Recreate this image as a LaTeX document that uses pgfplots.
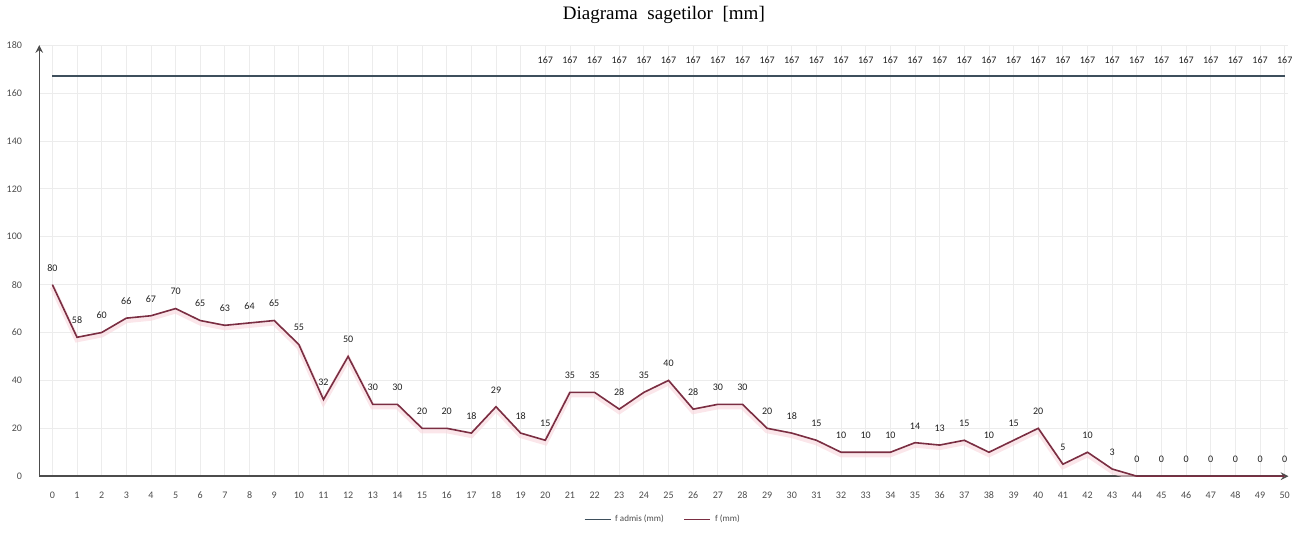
\documentclass[border=0pt]{standalone}
\usepackage{pgfplots}
\pgfplotsset{compat=1.18}
\usepackage{fontspec}
\setmainfont{Carlito}
\newfontfamily\titlefont{Liberation Serif}
\definecolor{flim}{HTML}{3E4F5C}
\definecolor{fline}{HTML}{7A2E42}
\definecolor{glow}{HTML}{F8D6DC}
\begin{document}
\begin{tikzpicture}
\begin{axis}[
  scale only axis, width=623pt, height=215pt,
  xmin=-0.53, xmax=50.15, ymin=0, ymax=180,
  axis x line=bottom, axis y line=left,
  axis line style={-stealth, gray!60!black, line width=0.7pt},
  xtick={0,...,50}, ytick={0,20,...,180},
  /pgf/number format/assume math mode=true,
  grid=major, major grid style={gray!15, line width=0.4pt},
  tick style={draw=none},
  ticklabel style={font=\fontsize{5}{6}\selectfont, text=gray!60!black},
  xticklabel style={yshift=-2pt},
  yticklabel style={xshift=-3pt},
  title={\titlefont\fontsize{9.5}{10}\selectfont Diagrama\ \ sagetilor\ \ [mm]},
  title style={yshift=1pt},
  legend style={at={(0.5,-0.07)}, anchor=north, draw=none, fill=none,
    legend columns=2, font=\fontsize{4.5}{5}\selectfont, text=gray!60!black,
    /tikz/every even column/.append style={column sep=8pt}},
  legend image code/.code={\draw[#1, line width=0.6pt] (0pt,0pt) -- (13pt,0pt);},
  every node near coord/.append style={font=\fontsize{5}{6}\selectfont, text=gray!25!black},
]
% glow under deflection line
\addplot[glow, line width=2.6pt, opacity=0.6, yshift=-1.2pt, forget plot] coordinates {
(0,80)(1,58)(2,60)(3,66)(4,67)(5,70)(6,65)(7,63)(8,64)(9,65)(10,55)
(11,32)(12,50)(13,30)(14,30)(15,20)(16,20)(17,18)(18,29)(19,18)(20,15)
(21,35)(22,35)(23,28)(24,35)(25,40)(26,28)(27,30)(28,30)(29,20)(30,18)
(31,15)(32,10)(33,10)(34,10)(35,14)(36,13)(37,15)(38,10)(39,15)(40,20)
(41,5)(42,10)(43,3)(44,0)(45,0)(46,0)(47,0)(48,0)(49,0)(50,0)};
% limit line
\addplot[flim, line width=1.1pt] coordinates {(0,167)(50,167)};
\addlegendentry{f admis (mm)}
\addplot[draw=none, forget plot, nodes near coords, point meta=explicit symbolic,
  every node near coord/.append style={anchor=south, yshift=3pt}] coordinates {
(20,167)[167](21,167)[167](22,167)[167](23,167)[167](24,167)[167](25,167)[167]
(26,167)[167](27,167)[167](28,167)[167](29,167)[167](30,167)[167](31,167)[167]
(32,167)[167](33,167)[167](34,167)[167](35,167)[167](36,167)[167](37,167)[167]
(38,167)[167](39,167)[167](40,167)[167](41,167)[167](42,167)[167](43,167)[167]
(44,167)[167](45,167)[167](46,167)[167](47,167)[167](48,167)[167](49,167)[167]
(50,167)[167]};
% deflection line
\addplot[fline, line width=0.8pt, nodes near coords,
  every node near coord/.append style={anchor=south, yshift=3pt}] coordinates {
(0,80)(1,58)(2,60)(3,66)(4,67)(5,70)(6,65)(7,63)(8,64)(9,65)(10,55)
(11,32)(12,50)(13,30)(14,30)(15,20)(16,20)(17,18)(18,29)(19,18)(20,15)
(21,35)(22,35)(23,28)(24,35)(25,40)(26,28)(27,30)(28,30)(29,20)(30,18)
(31,15)(32,10)(33,10)(34,10)(35,14)(36,13)(37,15)(38,10)(39,15)(40,20)
(41,5)(42,10)(43,3)(44,0)(45,0)(46,0)(47,0)(48,0)(49,0)(50,0)};
\addlegendentry{f (mm)}
\end{axis}
\end{tikzpicture}
\end{document}
